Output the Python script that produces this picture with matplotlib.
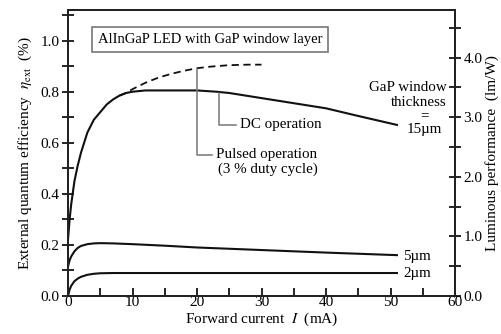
import matplotlib
matplotlib.use("Agg")
import matplotlib.pyplot as plt
from matplotlib.ticker import MultipleLocator

plt.rcParams['font.family'] = ['Liberation Serif', 'DejaVu Serif']
plt.rcParams['mathtext.fontset'] = 'stix'

# ---- data ----
i_15 = [0, 0.25, 0.5, 1, 1.5, 2, 3, 4, 5, 6, 7, 8, 9, 10, 12, 15, 20, 23, 25, 30, 35, 40, 45, 51]
eta_15 = [0.22, 0.30, 0.36, 0.45, 0.51, 0.56, 0.64, 0.69, 0.72, 0.75, 0.77, 0.785, 0.795, 0.80,
          0.805, 0.805, 0.805, 0.80, 0.795, 0.775, 0.755, 0.735, 0.705, 0.67]

i_pulsed = [8, 9, 10, 12, 14, 16, 18, 20, 22, 25, 28, 30]
eta_pulsed = [0.785, 0.795, 0.81, 0.835, 0.855, 0.87, 0.882, 0.892, 0.898, 0.904, 0.906, 0.906]

i_5 = [0, 0.25, 0.5, 1, 1.5, 2, 3, 4, 5, 7, 10, 15, 20, 30, 40, 51]
eta_5 = [0.115, 0.14, 0.155, 0.175, 0.188, 0.196, 0.203, 0.206, 0.207, 0.206, 0.203, 0.197,
         0.19, 0.18, 0.17, 0.16]

i_2 = [0, 0.25, 0.5, 1, 1.5, 2, 3, 4, 5, 7, 10, 20, 30, 40, 51]
eta_2 = [0.0, 0.025, 0.04, 0.058, 0.068, 0.075, 0.083, 0.087, 0.089, 0.09, 0.09, 0.09, 0.09,
         0.09, 0.09]

x_ticks = [0, 10, 20, 30, 40, 50, 60]
y_ticks = [0.0, 0.2, 0.4, 0.6, 0.8, 1.0]
y2_ticks = [0.0, 1.0, 2.0, 3.0, 4.0]

line_c = '#111111'
fs = 11
fs_ann = 10.8

fig = plt.figure(figsize=(5.01, 3.34), dpi=100)
ax = fig.add_axes([68 / 501, 1 - 296 / 334, (455 - 68) / 501, (296 - 10) / 334])
ax2 = ax.twinx()

ax.plot(i_15, eta_15, color=line_c, lw=1.5)
ax.plot(i_pulsed, eta_pulsed, color=line_c, lw=1.3, ls=(0, (4, 2.5)))
ax.plot(i_5, eta_5, color=line_c, lw=1.5)
ax.plot(i_2, eta_2, color=line_c, lw=1.5)

ax.set_xlim(0, 60)
ax.set_ylim(0, 1.12)
ax2.set_ylim(0, 4.8)

ax.set_xticks(x_ticks)
ax.set_xticklabels([str(v) for v in x_ticks])
ax.xaxis.set_minor_locator(MultipleLocator(5))
ax.set_yticks(y_ticks)
ax.set_yticklabels([f"{v:.1f}" for v in y_ticks])
ax.yaxis.set_minor_locator(MultipleLocator(0.1))
ax2.set_yticks(y2_ticks)
ax2.set_yticklabels([f"{v:.1f}" for v in y2_ticks])
ax2.yaxis.set_minor_locator(MultipleLocator(0.5))

ax.tick_params(axis='x', which='both', direction='in', length=6, width=1.2, labelsize=fs, pad=0,
               top=False)
ax.tick_params(axis='y', which='both', direction='inout', length=8, width=1.2, labelsize=fs,
               pad=2, right=False)
ax2.tick_params(axis='y', which='both', direction='inout', length=8, width=1.2, labelsize=fs,
                pad=2)

for a in (ax, ax2):
    for s in a.spines.values():
        s.set_linewidth(1.4)
        s.set_color('#222222')

ax.set_xlabel(r"Forward current  $I$  (mA)", fontsize=fs, labelpad=1)
ax.set_ylabel(r"External quantum efficiency  $\eta_{\rm ext}$  (%)", fontsize=fs, labelpad=5)
ax2.set_ylabel("Luminous performance  (lm/W)", fontsize=fs, labelpad=2)

# title box
ax.text(22.0, 1.004, "AlInGaP LED with GaP window layer", fontsize=10.5, ha='center',
        va='center', bbox=dict(boxstyle='square,pad=0.4', fc='white', ec='#777777', lw=1.2))

# DC operation leader
lead_c = '#777777'
ax.plot([23.4, 23.4, 26.0], [0.795, 0.67, 0.67], color=lead_c, lw=1.1)
ax.text(26.7, 0.67, "DC operation", fontsize=fs_ann, ha='left', va='center')

# Pulsed operation leader
ax.plot([20.0, 20.0, 22.3], [0.888, 0.553, 0.553], color=lead_c, lw=1.1)
ax.text(23.0, 0.553, "Pulsed operation", fontsize=fs_ann, ha='left', va='center')
ax.text(23.3, 0.498, "(3 % duty cycle)", fontsize=fs_ann, ha='left', va='center')

# thickness labels
ax.text(58.7, 0.815, "GaP window", fontsize=fs_ann, ha='right', va='center')
ax.text(58.7, 0.757, "thickness", fontsize=fs_ann, ha='right', va='center')
ax.text(55.2, 0.705, "=", fontsize=fs_ann, ha='center', va='center')
ax.text(55.2, 0.652, "15µm", fontsize=fs_ann, ha='center', va='center')
ax.text(52.0, 0.155, "5µm", fontsize=fs_ann, ha='left', va='center')
ax.text(52.0, 0.09, "2µm", fontsize=fs_ann, ha='left', va='center')

fig.savefig("out.png", dpi=100)
